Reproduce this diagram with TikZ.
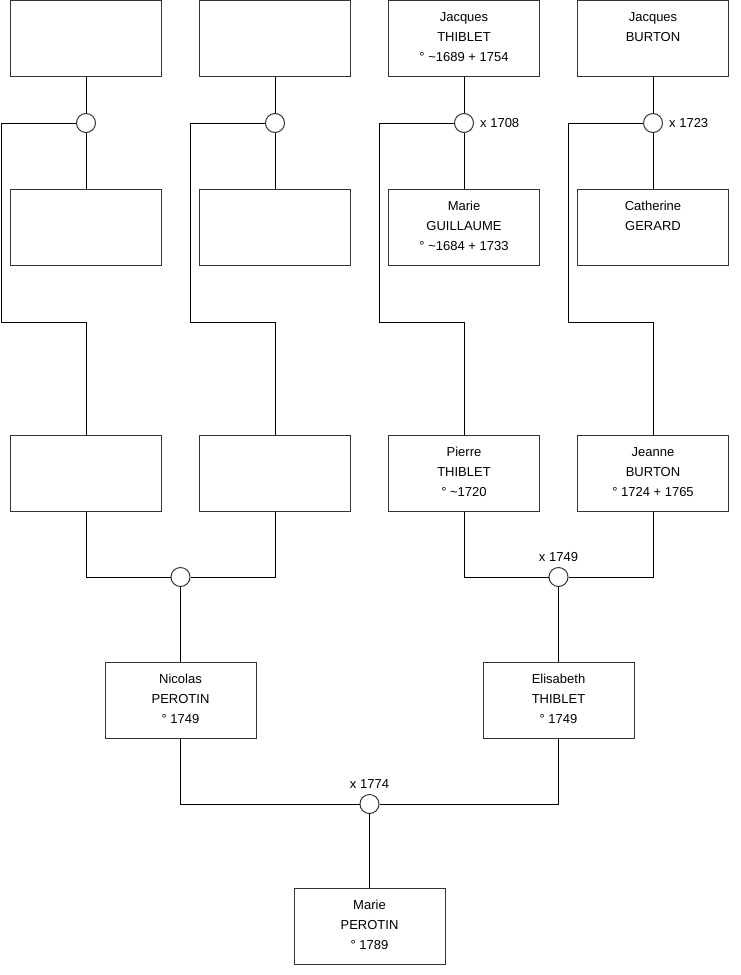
\documentclass[tikz,border=0pt]{standalone}
\usepackage{fontspec}
\setmainfont{Liberation Sans}
\usetikzlibrary{positioning}
\newcommand{\who}[1]{\parbox[c][76pt][t]{151pt}{\centering\rule{0pt}{21pt}#1}}
\tikzset{
  pbox/.style={draw=black!80,line width=1pt,fill=white,inner sep=0pt,
    minimum width=151pt,minimum height=76pt,font=\fontsize{13}{20}\selectfont},
  ubox/.style={circle,draw=black!80,line width=1pt,fill=white,inner sep=0pt,minimum size=19pt},
  ylab/.style={inner sep=0pt,font=\fontsize{13}{16}\selectfont},
  tie/.style={line width=1pt}
}
\begin{document}
\begin{tikzpicture}[x=1pt,y=-1pt]
  \useasboundingbox (0,0) rectangle (740,975);
  % grand-parents
  \node[pbox] (f1) at (86,38.5) {\who{}};
  \node[pbox] (f2) at (275,38.5) {\who{}};
  \node[pbox] (f3) at (464,38.5) {\who{Jacques\\THIBLET\\° \textasciitilde1689 + 1754}};
  \node[pbox] (f4) at (653,38.5) {\who{Jacques\\BURTON}};
  \node[pbox] (g1) at (86,227) {\who{}};
  \node[pbox] (g2) at (275,227) {\who{}};
  \node[pbox] (g3) at (464,227) {\who{Marie\\GUILLAUME\\° \textasciitilde1684 + 1733}};
  \node[pbox] (g4) at (653,227) {\who{Catherine\\GERARD}};
  \node[ubox] (m1) at (86,123) {};
  \node[ubox] (m2) at (275,123) {};
  \node[ubox] (m3) at (464,123) {};
  \node[ubox] (m4) at (653,123) {};
  \node[ylab,anchor=west] (y3) at ([xshift=6pt]m3.east) {x 1708};
  \node[ylab,anchor=west] (y4) at ([xshift=6pt]m4.east) {x 1723};
  % parents
  \node[pbox] (c1) at (86,473) {\who{}};
  \node[pbox] (c2) at (275,473) {\who{}};
  \node[pbox] (c3) at (464,473) {\who{Pierre\\THIBLET\\° \textasciitilde1720}};
  \node[pbox] (c4) at (653,473) {\who{Jeanne\\BURTON\\° 1724 + 1765}};
  \coordinate (k1) at (1.5,322);
  \coordinate (k2) at (190,322);
  \coordinate (k3) at (379,322);
  \coordinate (k4) at (568,322);
  \foreach \i in {1,...,4}{
    \draw[tie] (f\i) -- (m\i);
    \draw[tie] (m\i) -- (g\i);
    \draw[tie] (m\i.west) -| (k\i) -| (c\i.north);
  }
  \node[ubox] (u1) at (180.5,577) {};
  \node[ubox] (u2) at (558.5,577) {};
  \node[ylab,anchor=south] (v2) at ([yshift=5.5pt]u2.north) {x 1749};
  \draw[tie] (c1.south) |- (u1.west);
  \draw[tie] (c2.south) |- (u1.east);
  \draw[tie] (c3.south) |- (u2.west);
  \draw[tie] (c4.south) |- (u2.east);
  % couple
  \node[pbox] (p1) at (180.5,700) {\who{Nicolas\\PEROTIN\\° 1749}};
  \node[pbox] (p2) at (558.5,700) {\who{Elisabeth\\THIBLET\\° 1749}};
  \draw[tie] (u1) -- (p1);
  \draw[tie] (u2) -- (p2);
  \node[ubox] (u0) at (369.5,804) {};
  \node[ylab,anchor=south] (v0) at ([yshift=5pt]u0.north) {x 1774};
  \draw[tie] (p1.south) |- (u0.west);
  \draw[tie] (p2.south) |- (u0.east);
  \node[pbox] (me) at (369.5,926) {\who{Marie\\PEROTIN\\° 1789}};
  \draw[tie] (u0) -- (me);
\end{tikzpicture}
\end{document}
